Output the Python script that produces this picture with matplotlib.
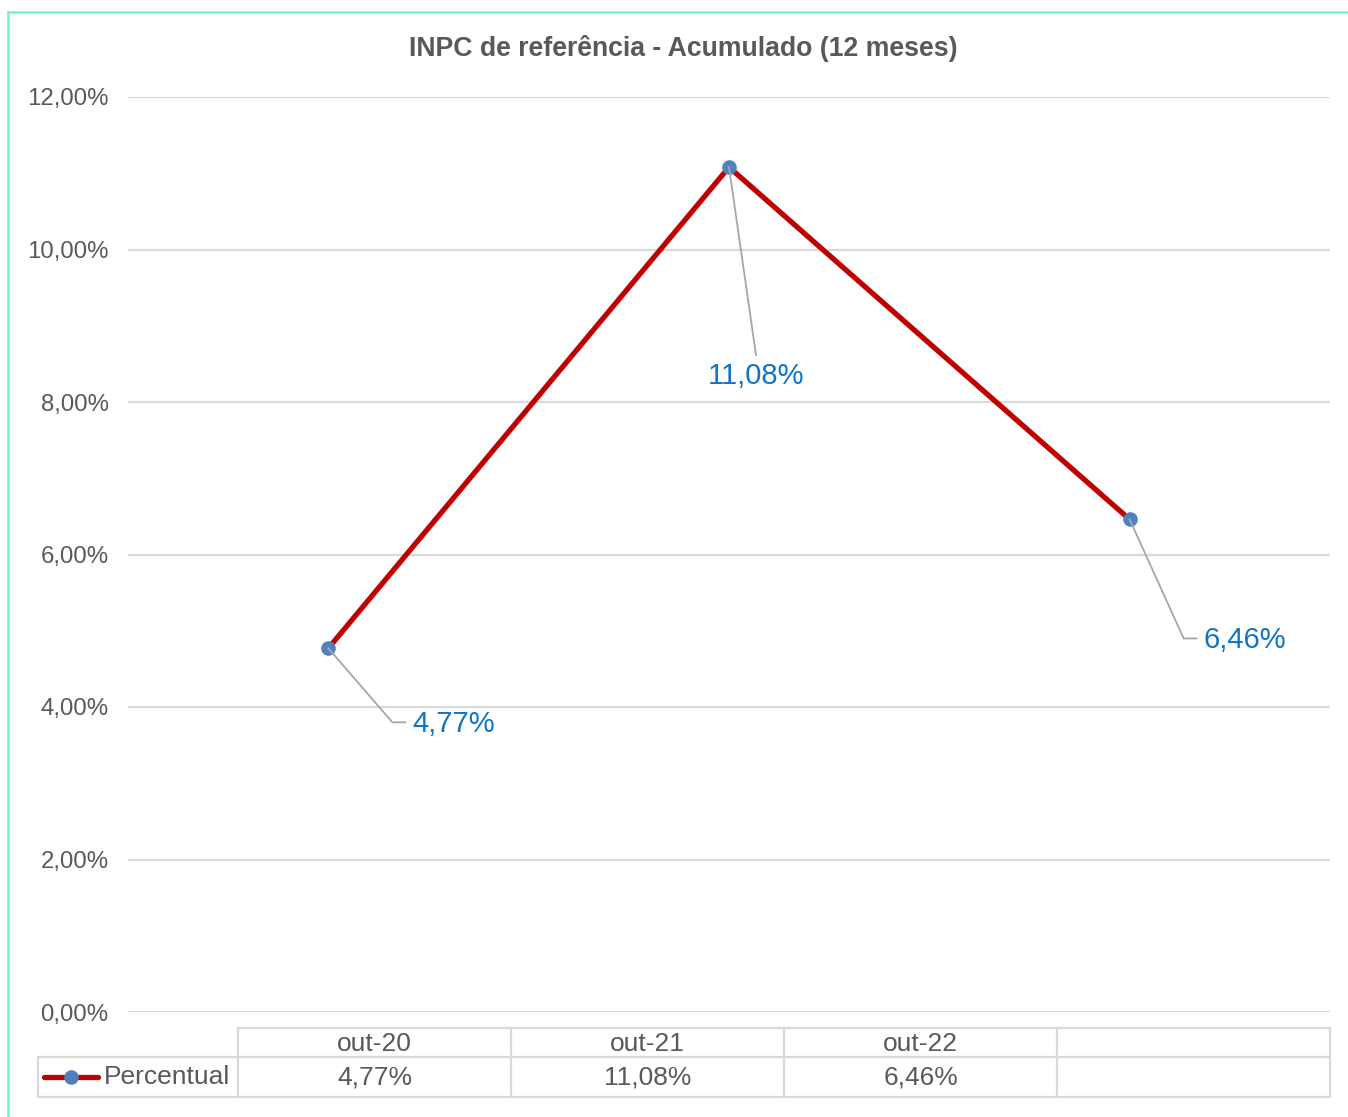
import numpy as np
import matplotlib
matplotlib.use("Agg")
import matplotlib.pyplot as plt
from matplotlib.lines import Line2D
from matplotlib.transforms import IdentityTransform

# data
months = ["out-20", "out-21", "out-22"]
values = [4.77, 11.08, 6.46]
table_cols = ["out-20", "out-21", "out-22", ""]
series_name = "Percentual"
title = "INPC de referência - Acumulado (12 meses)"
yticks = [0, 2, 4, 6, 8, 10, 12]

W, H = 1348, 1117
GREY = "#595959"
GRID = "#d9d9d9"
RED = "#c00000"
DOT = "#4f81bd"
BLUE = "#0f75c8"

plt.rcParams["font.family"] = ["Liberation Sans", "DejaVu Sans"]


def pct(v):
    return ("%.2f%%" % v).replace(".", ",")


def px(x, y):
    # image pixels (y down) -> figure fraction
    return x / W, 1 - y / H


fig = plt.figure(figsize=(W / 100, H / 100), dpi=100)
x0, y0 = px(128, 1012)
x1, y1 = px(1330, 97)
ax = fig.add_axes([x0, y0, x1 - x0, y1 - y0])

xs = np.arange(len(months))
ax.plot(xs, values, color=RED, lw=3.8, zorder=3, solid_capstyle="round",
        marker="o", ms=9.5, mfc=DOT, mec=DOT)
ax.set_xlim(-0.5, len(months) - 0.5)
ax.set_ylim(0, 12)
ax.set_yticks(yticks)
ax.set_yticklabels([pct(v) for v in yticks], color=GREY, fontsize=17.3)
ax.set_xticks([])
ax.tick_params(axis="y", length=0, pad=14)
ax.grid(axis="y", color=GRID, lw=1.6)
ax.set_axisbelow(True)
for s in ax.spines.values():
    s.set_visible(False)

fig.text(*px(683, 49), title, ha="center", va="center",
         fontsize=19.2, fontweight="bold", color=GREY)

# data labels with leader lines (offsets in pixels, y down)
leaders = [[(0, 0), (64, 74), (77, 74)],
           [(0, 0), (27, 188)],
           [(0, 0), (54, 119), (67, 119)]]
label_pos = [((84, 76), "left"), ((27, 209), "center"), ((74, 121), "left")]
for i, v in enumerate(values):
    bx, by = ax.transData.transform((i, v))
    lx = [bx + dx for dx, dy in leaders[i]]
    ly = [by - dy for dx, dy in leaders[i]]
    fig.add_artist(Line2D(lx, ly, transform=IdentityTransform(), color="#a6a6a6",
                          lw=1.3, zorder=2))
    (dx, dy), ha = label_pos[i]
    fig.text(bx + dx, by - dy, pct(v), transform=IdentityTransform(), ha=ha,
             va="center", fontsize=21, color=BLUE)

# data table under the plot
edges = np.linspace(238, 1330, len(table_cols) + 1)


def hline(xa, xb, y):
    fig.add_artist(Line2D([xa / W, xb / W], [1 - y / H] * 2, transform=fig.transFigure,
                          color=GRID, lw=1.6))


def vline(x, ya, yb):
    fig.add_artist(Line2D([x / W] * 2, [1 - ya / H, 1 - yb / H], transform=fig.transFigure,
                          color=GRID, lw=1.6))


hline(edges[0], edges[-1], 1028)
hline(38, edges[-1], 1057)
hline(38, edges[-1], 1097)
vline(38, 1057, 1097)
for e in edges:
    vline(e, 1028, 1097)

for j, lab in enumerate(table_cols):
    cx = (edges[j] + edges[j + 1]) / 2
    fig.text(*px(cx, 1044), lab, ha="center", va="center", fontsize=19, color=GREY)
    if j < len(values):
        fig.text(*px(cx, 1078), pct(values[j]), ha="center", va="center",
                 fontsize=19, color=GREY)

fig.add_artist(Line2D([44 / W, 98 / W], [1 - 1077 / H] * 2, transform=fig.transFigure,
                      color=RED, lw=3.8, solid_capstyle="round"))
fig.add_artist(Line2D([71 / W], [1 - 1077 / H], transform=fig.transFigure, marker="o",
                      ms=9.5, mfc=DOT, mec=DOT, lw=0))
fig.text(*px(104, 1077), series_name, ha="left", va="center", fontsize=19, color=GREY)

# outer frame (top and left edge)
TEAL = "#74f4d2"
fig.add_artist(Line2D([8 / W, 1], [1 - 12 / H] * 2, transform=fig.transFigure, color=TEAL, lw=1.8))
fig.add_artist(Line2D([8 / W] * 2, [1 - 12 / H, 0], transform=fig.transFigure, color=TEAL, lw=1.8))

fig.savefig("out.png", dpi=100, facecolor="white")
